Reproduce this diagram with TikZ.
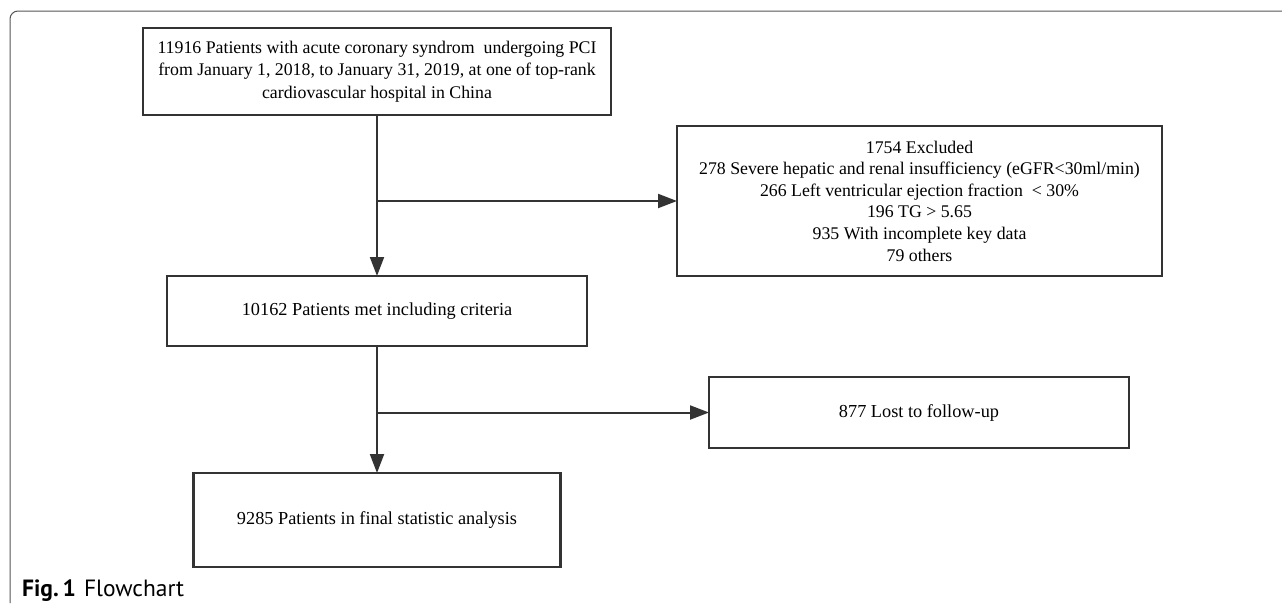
\documentclass[tikz,border=0pt]{standalone}
\usepackage{fontspec}
\setmainfont{Liberation Serif}
\newfontfamily\capfont{PT Sans}
\usetikzlibrary{arrows.meta}
\definecolor{ink}{HTML}{333333}
\definecolor{framec}{HTML}{555555}
\tikzset{
  flowbox/.style={draw=ink, line width=2.2pt, fill=white, inner sep=0pt, outer sep=0pt,
    align=center, font=\fontsize{18.3}{21.7}\selectfont, text=black},
  flowarrow/.style={draw=ink, line width=2pt, -{Triangle[length=19pt,width=14pt]}},
  framedraw/.style={draw=framec, line width=1pt, rounded corners=8pt}
}
\begin{document}
\begin{tikzpicture}[x=1pt,y=-1pt]
\useasboundingbox (0,0) rectangle (1282,603);
\fill[white] (0,0) rectangle (1282,603);
\draw[framedraw] (10,603) |- (1282,11);

\node[flowbox, minimum width=468pt, minimum height=87pt, font=\fontsize{17.8}{22.5}\selectfont] (b1) at (377,71.5)
  {11916 Patients with acute coronary syndrom\ \ undergoing PCI\\
   from January 1, 2018, to January 31, 2019, at one of top-rank\\
   cardiovascular hospital in China};
\node[flowbox, minimum width=485pt, minimum height=150pt, font=\fontsize{17.8}{21.6}\selectfont] (b2) at (919.5,201)
  {1754 Excluded\\
   278 Severe hepatic and renal insufficiency (eGFR<30ml/min)\\
   266 Left ventricular ejection fraction\ \ < 30\%\\
   196 TG > 5.65\\
   935 With incomplete key data\\
   79 others};
\node[flowbox, minimum width=420pt, minimum height=70pt] (b3) at (377,311)
  {10162 Patients met including criteria};
\node[flowbox, minimum width=420pt, minimum height=71pt] (b5) at (919,412.5)
  {877 Lost to follow-up};
\node[flowbox, minimum width=367pt, minimum height=94pt] (b4) at (377,520)
  {9285 Patients in final statistic analysis};

\coordinate (j1) at (b1.south |- b2.west);
\coordinate (j2) at (b3.south |- b5.west);

\draw[flowarrow] (b1.south) -- (b3.north);
\draw[flowarrow] (j1) -- (b2.west);
\draw[flowarrow] (b3.south) -- (b4.north);
\draw[flowarrow] (j2) -- (b5.west);

\node[anchor=base west, inner sep=0pt, font=\capfont\fontsize{23.5}{26}\selectfont] (cap) at (22,596)
  {\textbf{Fig.\,1}\hspace{8pt}Flowchart};
\end{tikzpicture}
\end{document}
